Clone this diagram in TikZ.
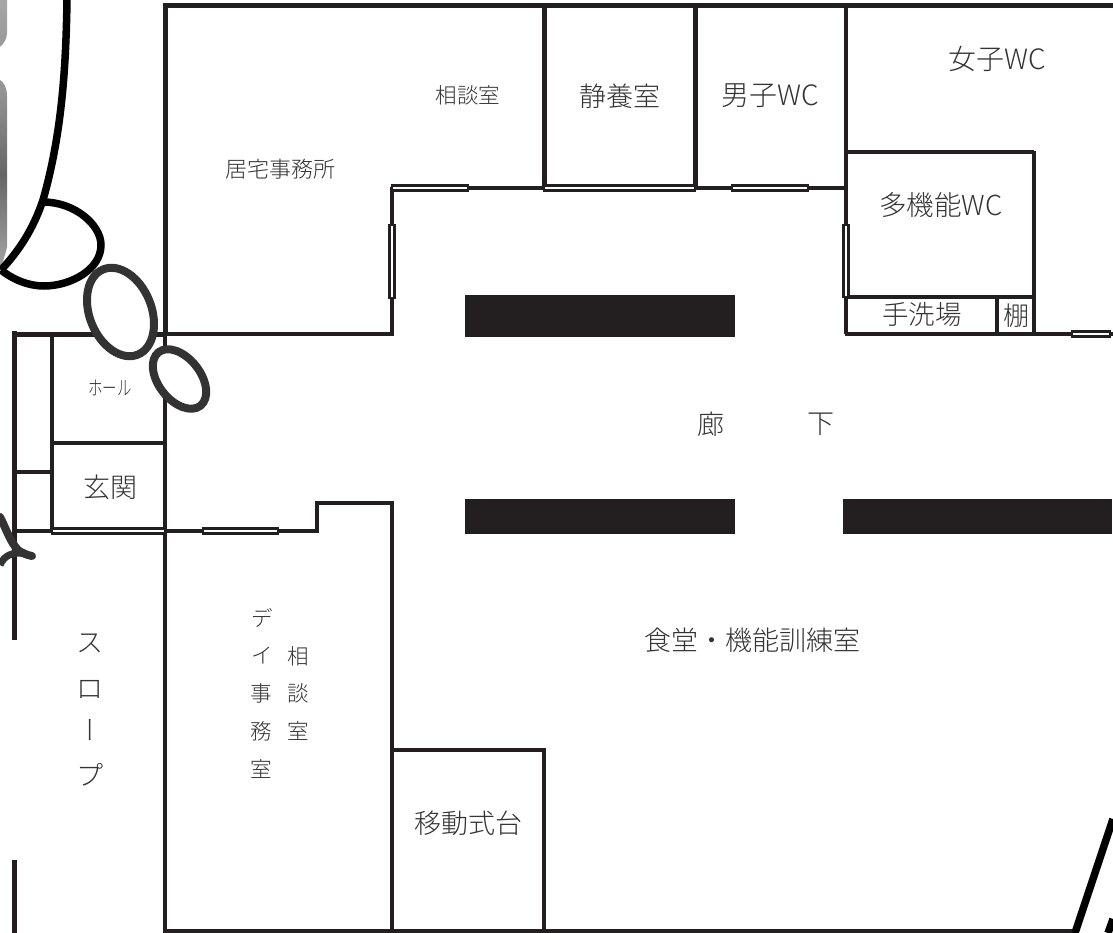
\documentclass[tikz,border=0pt]{standalone}
\usepackage{fontspec}
\setmainfont{Noto Sans CJK JP}[UprightFont=* Light]
\definecolor{ink}{HTML}{231F20}
\definecolor{txt}{HTML}{333333}
\definecolor{blob}{HTML}{333333}
\tikzset{
  wall/.style={draw=ink,line width=3.3pt},
  thick wall/.style={draw=ink,line width=5pt},
  sash/.style={draw=ink,fill=white,line width=2.4pt},
  pillar/.style={fill=ink,draw=none},
  lab/.style={text=txt,inner sep=0pt,font=\fontsize{#1}{#1}\selectfont},
  lab/.default=27,
  curve/.style={draw=black,line width=7.5pt},
  ring/.style={draw=blob,fill=white,line width=8pt}
}
\begin{document}
\begin{tikzpicture}[x=1pt,y=-1pt]
\useasboundingbox (0,0) rectangle (1113,933);
% grey shapes at the left edge
\shade[top color=gray!70,bottom color=gray!80] (0,0) -- (7,0) -- (7,33) .. controls (7,40) and (3,44) .. (0,47) -- cycle;
\shade[top color=gray!80,bottom color=gray!70,middle color=black!60] (0,80) .. controls (4,82) and (7,88) .. (7,96) -- (7,247) .. controls (5,256) and (2,264) .. (0,270) -- cycle;
% outer walls
\draw[thick wall] (165,333) -- (165,6) -- (1113,6);
\draw[wall] (165,333) -- (165,931);
\draw[thick wall] (163,931) -- (1076,931);
% upper rooms
\draw[wall] (846,6) -- (846,334);
\draw[wall] (392,188) -- (846,188);
\draw[wall] (392,187) -- (392,334) -- (165,334);
\draw[thick wall] (12,334) -- (165,334);
\draw[thick wall] (544,5) -- (544,189);
\draw[thick wall] (695,5) -- (695,189);
% WC block
\draw[wall] (846,152) -- (1034,152);
\draw[wall] (1034,151) -- (1034,336);
\draw[wall] (846,297) -- (1034,297);
\draw[wall] (997,297) -- (997,334);
\draw[wall] (844.5,334) -- (1113,334);
% sashes
\draw[sash] (392,185.5) rectangle (468,190.5);
\draw[sash] (544,185.5) rectangle (695,190.5);
\draw[sash] (732,185.5) rectangle (808,190.5);
\draw[sash] (389.5,225) rectangle (394.5,298);
\draw[sash] (843.5,225) rectangle (848.5,297);
\draw[sash] (1072,331.5) rectangle (1110,336.5);
% entrance
\draw[thick wall] (14,331) -- (14,640);
\draw[thick wall] (14,860) -- (14,933);
\draw[wall] (52,334) -- (52,533);
\draw[wall] (52,443) -- (165,443);
\draw[wall] (14,472) -- (52,472);
\draw[wall] (14,531) -- (52,531);
\draw[sash] (52,528.5) rectangle (165,533.5);
\draw[wall] (165,531) -- (317,531) -- (317,503) -- (392,503) -- (392,931);
\draw[sash] (203,528.5) rectangle (278,533.5);
\draw[wall] (392,750) -- (544,750) -- (544,931);
% pillars
\path[pillar] (465,295) rectangle (735,337);
\path[pillar] (465,499) rectangle (735,534);
\path[pillar] (843,499) rectangle (1112,534);
% freehand curves
\draw[curve] (67,0) .. controls (66,60) and (63,130) .. (43,200) .. controls (33,230) and (18,252) .. (1,270);
\draw[curve] (43,202) .. controls (75,202) and (101,225) .. (101,245) .. controls (101,270) and (70,286) .. (44,286) .. controls (28,286) and (12,279) .. (1,270);
\draw[curve] (1075,933) -- (1113,819);
\draw[curve] (1108,933) -- (1113,919);
% rings
\draw[ring,rotate around={22:(120.5,312)}] (120.5,312) ellipse [x radius=31,y radius=46];
\draw[ring,rotate around={38:(179.5,379)}] (179.5,379) ellipse [x radius=21,y radius=34];
% hooked stroke at slope top
\draw[draw=blob,line width=8pt,line cap=round] (0,517) .. controls (5,526) and (10,542) .. (18,550) .. controls (22,553) and (27,555) .. (32,556);
\draw[draw=blob,line width=7pt] (26,554) .. controls (12,551) and (4,556) .. (0,565);
% labels
\node[lab=21.5] (n1) at (468,95) {相談室};
\node[lab=22] (n2) at (280,169) {居宅事務所};
\node[lab=27] (n3) at (620,96) {静養室};
\node[lab=28] (n4) at (770,96) {男子WC};
\node[lab=28] (n5) at (997,59) {女子WC};
\node[lab=27.5] (n6) at (941,205) {多機能WC};
\node[lab=26.5] (n7) at (922,314) {手洗場};
\node[lab=26] (n8) at (1016,316) {棚};
\node[lab=20,xscale=.72] (n9) at (110,388) {ホール};
\node[lab=27] (n10) at (110,487) {玄関};
\node[lab=27] (n11) at (711,424) {廊};
\node[lab=27] (n12) at (821,424) {下};
\node[lab=27] (n13) at (752,640) {食堂・機能訓練室};
\node[lab=27] (n14) at (468,823) {移動式台};
\node[lab=21.5] (d1) at (262,618) {デ};
\node[lab=21.5] (d2) at (262,655) {イ};
\node[lab=21.5] (d3) at (261,693) {事};
\node[lab=21.5] (d4) at (261,731) {務};
\node[lab=21.5] (d5) at (261,769) {室};
\node[lab=21.5] (s1) at (298,656) {相};
\node[lab=21.5] (s2) at (298,693) {談};
\node[lab=21.5] (s3) at (298,731) {室};
\node[lab=27] (r1) at (90,643) {ス};
\node[lab=27] (r2) at (90,689) {ロ};
\node[lab=27,rotate=90] (r3) at (95,730) {ー};
\node[lab=27] (r4) at (90,775) {プ};
\end{tikzpicture}
\end{document}
